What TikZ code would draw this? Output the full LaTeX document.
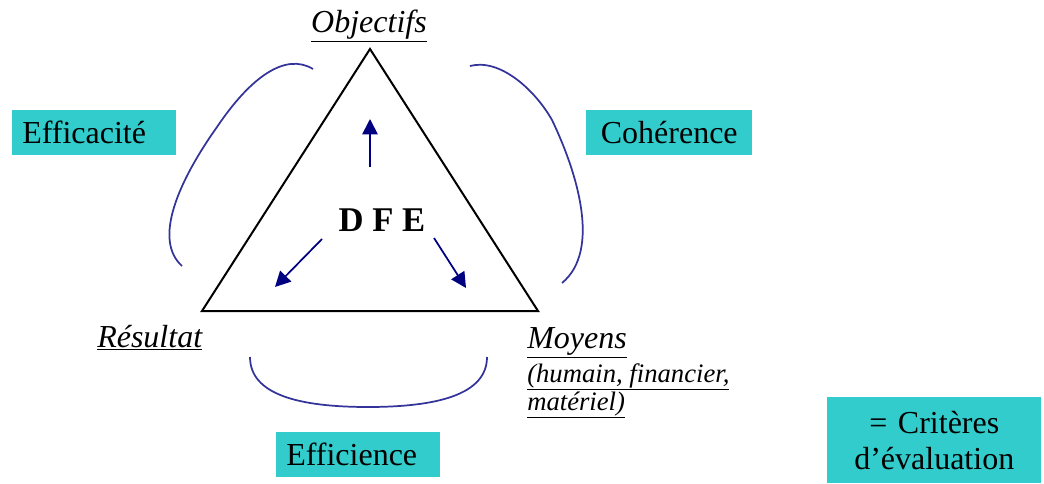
\documentclass[tikz,border=0pt]{standalone}
\usepackage{fontspec}
\setmainfont{Liberation Serif}
\usetikzlibrary{arrows.meta}
\definecolor{boxteal}{RGB}{51,204,204}
\definecolor{arcblue}{RGB}{51,51,153}
\definecolor{arrownavy}{RGB}{0,0,128}
\begin{document}
\begin{tikzpicture}[x=0.75pt,y=-0.75pt,
  critbox/.style={fill=boxteal, inner xsep=7.5pt, inner ysep=0pt, minimum height=33.75pt,
    font=\fontsize{24}{27}\selectfont, anchor=north west},
  corner/.style={font=\fontsize{24}{27}\selectfont\itshape, inner sep=0pt},
  sublabel/.style={font=\fontsize{20}{22}\selectfont\itshape, inner sep=0pt, anchor=base west},
  bracket/.style={draw=arcblue, line width=1.3pt},
  dfearrow/.style={draw=arrownavy, line width=1.3pt, -{Triangle[length=11.5pt,width=11.5pt]}}]
\useasboundingbox (0,0) rectangle (1044,484);
% triangle
\coordinate (A) at (370,49);
\coordinate (B) at (202,311);
\coordinate (C) at (538,311);
\draw[line width=1.5pt, line join=miter] (A) -- (B) -- (C) -- cycle;
% labels
\node[corner, anchor=base] (obj) at (369,33) {\underline{Objectifs}};
\node[corner, anchor=base west] (res) at (97,347) {\underline{Résultat}};
\node[corner, anchor=base west] (moy) at (527,348) {\underline{Moyens}};
\node[sublabel] (moy2) at (527,382) {\underline{(humain, financier,}};
\node[sublabel] (moy3) at (527,410) {\underline{matériel)}};
% DFE
\node[font=\fontsize{26}{30}\selectfont\bfseries, inner sep=0pt, anchor=base] (dfe) at (382,232) {D F E};
\coordinate (u0) at (370,167); \coordinate (u1) at (370,119);
\coordinate (l0) at (322,239); \coordinate (l1) at (275,287);
\coordinate (r0) at (434,238); \coordinate (r1) at (466,288);
\draw[dfearrow] (u0) -- (u1);
\draw[dfearrow] (l0) -- (l1);
\draw[dfearrow] (r0) -- (r1);
% brackets
\coordinate (la) at (313,69); \coordinate (lb) at (182,266);
\draw[bracket] (la) .. controls (285,52) and (250,78) .. (217,127)
  .. controls (178,182) and (153,240) .. (lb);
\coordinate (ra) at (470,66); \coordinate (rb) at (562,283);
\draw[bracket] (ra) .. controls (500,58) and (535,90) .. (552,120)
  .. controls (576,170) and (602,250) .. (rb);
\coordinate (ba) at (250,357); \coordinate (bb) at (487,357);
\draw[bracket] (ba) .. controls (250,395) and (300,407) .. (368,407)
  .. controls (436,407) and (487,395) .. (bb);
% boxes
\node[critbox, text width=108pt, align=left] (eff) at (12,110) {Efficacité};
\node[critbox, text width=109.5pt, align=center] (coh) at (586,110) {Cohérence};
\node[critbox, text width=108pt, align=left] (effi) at (276,432) {Efficience};
\node[critbox, text width=145.5pt, minimum height=64.5pt, align=center, font=\fontsize{24}{27}\selectfont] (legend) at (827,397) {= Critères\\d’évaluation};
\end{tikzpicture}
\end{document}
